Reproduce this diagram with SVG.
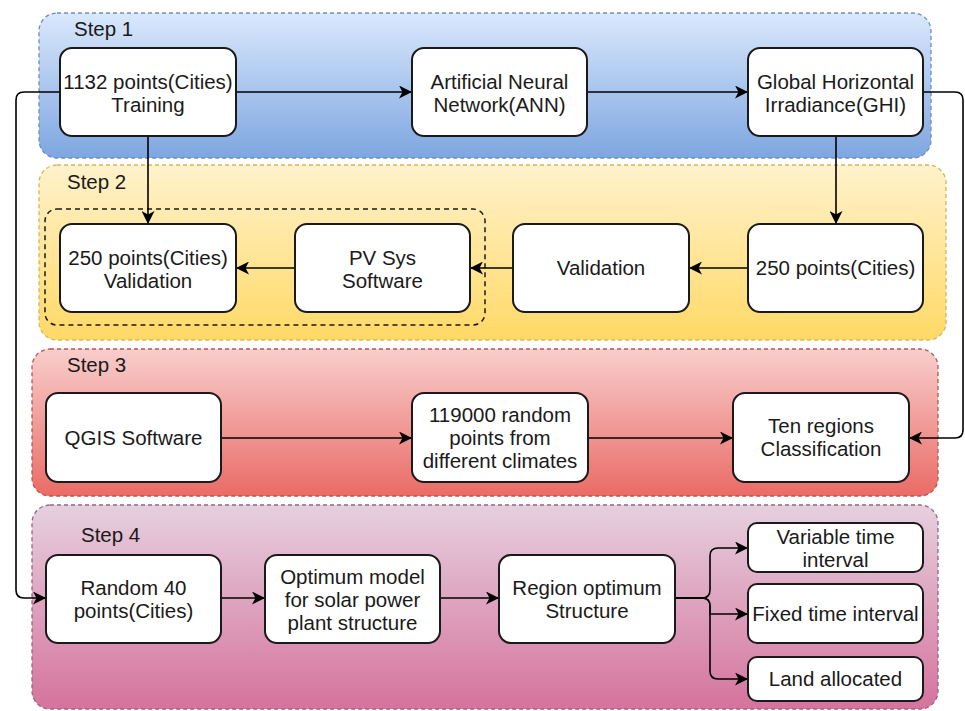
<svg xmlns="http://www.w3.org/2000/svg" width="965" height="711" viewBox="0 0 965 711">
<defs>
<linearGradient id="g1" x1="0" y1="0" x2="0" y2="1"><stop offset="0" stop-color="#dae8fc"/><stop offset="1" stop-color="#7ea6e0"/></linearGradient>
<linearGradient id="g2" x1="0" y1="0" x2="0" y2="1"><stop offset="0" stop-color="#fff2cc"/><stop offset="1" stop-color="#ffd966"/></linearGradient>
<linearGradient id="g3" x1="0" y1="0" x2="0" y2="1"><stop offset="0" stop-color="#f8cecc"/><stop offset="1" stop-color="#ea6b66"/></linearGradient>
<linearGradient id="g4" x1="0" y1="0" x2="0" y2="1"><stop offset="0" stop-color="#e6d0de"/><stop offset="1" stop-color="#d5739d"/></linearGradient>
<marker id="arr" viewBox="0 0 13 13" refX="12" refY="6.5" markerWidth="13" markerHeight="13" markerUnits="userSpaceOnUse" orient="auto">
<path d="M0,0 L13,6.5 L0,13 L3.5,6.5 Z" fill="#000"/>
</marker>
</defs>
<style>
.step{stroke-width:1.3;stroke-dasharray:4 3}
.node rect{fill:#fff;stroke:#1a1a1a;stroke-width:2}
text{font-family:"Liberation Sans",Arial,sans-serif;font-size:20.5px;fill:#1a1a1a;text-anchor:middle}
.lbl{text-anchor:start}
.conn path{fill:none;stroke:#000;stroke-width:1.6;marker-end:url(#arr)}
</style>
<rect width="965" height="711" fill="#fff"/>
<g id="step1"><rect class="step" x="39" y="13" width="892" height="145" rx="18" fill="url(#g1)" stroke="#6c8ebf"/><text class="lbl" x="74" y="36">Step 1</text></g>
<g id="step2"><rect class="step" x="39" y="165" width="907" height="175" rx="18" fill="url(#g2)" stroke="#d6b656"/><text class="lbl" x="67" y="189">Step 2</text>
<rect x="45" y="209" width="440" height="116" rx="12" fill="none" stroke="#1a1a1a" stroke-width="1.5" stroke-dasharray="5 4"/></g>
<g id="step3"><rect class="step" x="32" y="349" width="906" height="147" rx="18" fill="url(#g3)" stroke="#b85450"/><text class="lbl" x="67" y="372">Step 3</text></g>
<g id="step4"><rect class="step" x="32" y="505" width="906" height="204" rx="18" fill="url(#g4)" stroke="#996185"/><text class="lbl" x="81" y="542">Step 4</text></g>

<g id="connectors" class="conn">
<path d="M236,92 H411"/>
<path d="M587,92 H747"/>
<path d="M148,136 V223"/>
<path d="M836,136 V223"/>
<path d="M748,268 H690"/>
<path d="M513,268 H471"/>
<path d="M295,268 H237"/>
<path d="M923,92 H955 Q963,92 963,100 V430 Q963,438 955,438 H910"/>
<path d="M60,92 H24 Q16,92 16,100 V590 Q16,598 24,598 H45"/>
<path d="M221,438 H411"/>
<path d="M588,438 H732"/>
<path d="M221,598 H264"/>
<path d="M440,598 H498"/>
<path d="M675,598 H702 Q710,598 710,590 V556 Q710,548 718,548 H747"/>
<path d="M675,598 H702 Q710,598 710,606 V614 H747"/>
<path d="M675,598 H702 Q710,598 710,606 V671 Q710,679 718,679 H747"/>
</g>

<g id="n1" class="node"><rect x="60" y="48" width="176" height="88" rx="12"/><text x="148" y="89">1132 points(Cities)</text><text x="148" y="112">Training</text></g>
<g id="n2" class="node"><rect x="412" y="48" width="175" height="88" rx="12"/><text x="499.5" y="89">Artificial Neural</text><text x="499.5" y="112">Network(ANN)</text></g>
<g id="n3" class="node"><rect x="748" y="48" width="175" height="88" rx="12"/><text x="835.5" y="89">Global Horizontal</text><text x="835.5" y="112">Irradiance(GHI)</text></g>
<g id="n4" class="node"><rect x="60" y="224" width="176" height="88" rx="12"/><text x="148" y="265">250 points(Cities)</text><text x="148" y="288">Validation</text></g>
<g id="n5" class="node"><rect x="295" y="224" width="175" height="88" rx="12"/><text x="382.5" y="265">PV Sys</text><text x="382.5" y="288">Software</text></g>
<g id="n6" class="node"><rect x="513" y="224" width="176" height="88" rx="12"/><text x="601" y="275">Validation</text></g>
<g id="n7" class="node"><rect x="748" y="224" width="175" height="88" rx="12"/><text x="835.5" y="275">250 points(Cities)</text></g>
<g id="n8" class="node"><rect x="46" y="393" width="175" height="89" rx="12"/><text x="133.5" y="445">QGIS Software</text></g>
<g id="n9" class="node"><rect x="412" y="393" width="176" height="89" rx="12"/><text x="500" y="422">119000 random</text><text x="500" y="445">points from</text><text x="500" y="468">different climates</text></g>
<g id="n10" class="node"><rect x="733" y="393" width="176" height="89" rx="12"/><text x="821" y="433">Ten regions</text><text x="821" y="456">Classification</text></g>
<g id="n11" class="node"><rect x="46" y="555" width="175" height="88" rx="12"/><text x="133.5" y="595">Random 40</text><text x="133.5" y="618">points(Cities)</text></g>
<g id="n12" class="node"><rect x="265" y="555" width="175" height="88" rx="12"/><text x="352.5" y="584">Optimum model</text><text x="352.5" y="607">for solar power</text><text x="352.5" y="630">plant structure</text></g>
<g id="n13" class="node"><rect x="499" y="555" width="176" height="88" rx="12"/><text x="587" y="595">Region optimum</text><text x="587" y="618">Structure</text></g>
<g id="n14" class="node"><rect x="748" y="523" width="175" height="49" rx="9"/><text x="835.5" y="544">Variable time</text><text x="835.5" y="567">interval</text></g>
<g id="n15" class="node"><rect x="748" y="584" width="175" height="59" rx="9"/><text x="835.5" y="621">Fixed time interval</text></g>
<g id="n16" class="node"><rect x="748" y="657" width="175" height="44" rx="9"/><text x="835.5" y="686">Land allocated</text></g>
</svg>
